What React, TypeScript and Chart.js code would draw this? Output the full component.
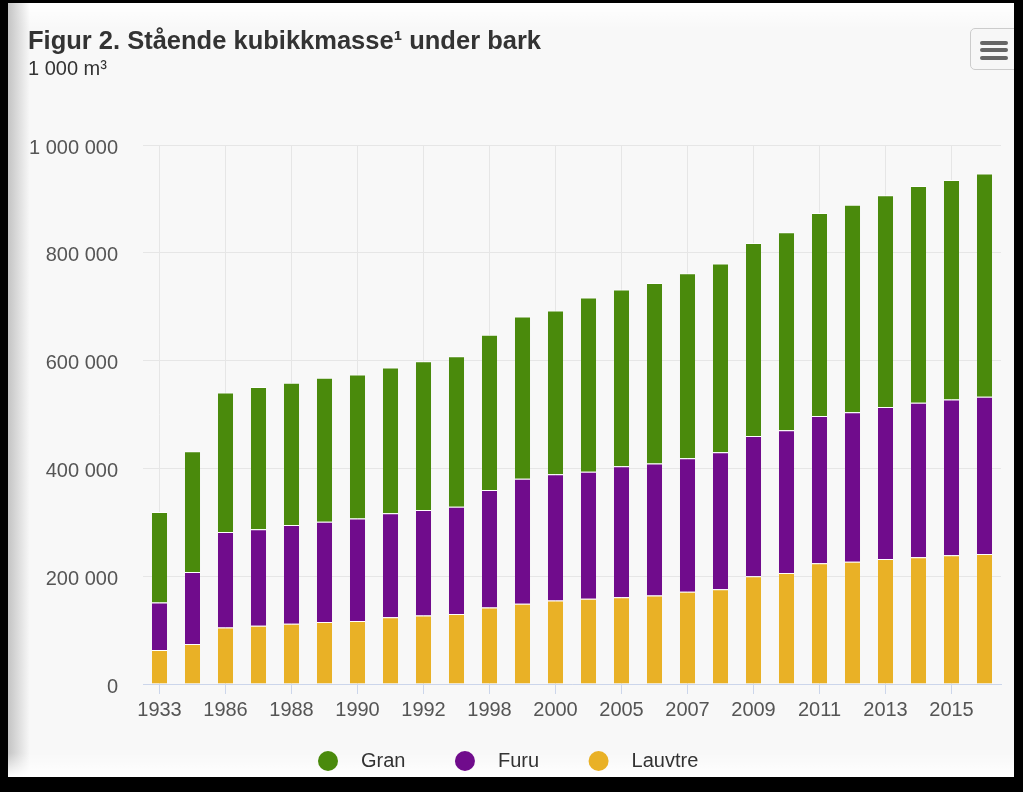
import React, { useEffect, useRef } from "react";
import { Chart, registerables } from "chart.js";

Chart.register(...registerables);

const categories = [
  "1933", "1957", "1986", "1987", "1988", "1989", "1990", "1991", "1992", "1993",
  "1998", "1999", "2000", "2004", "2005", "2006", "2007", "2008", "2009", "2010",
  "2011", "2012", "2013", "2014", "2015", "2016",
];

const granValues = [
  168000, 224000, 259000, 264000, 264000, 267000, 267000, 270000, 276000, 279000,
  288000, 301000, 304000, 323000, 328000, 335000, 343000, 350000, 358000, 367000,
  377000, 385000, 393000, 402000, 407000, 414000,
];

const furuValues = [
  88000, 134000, 177000, 179000, 183000, 186000, 190000, 193000, 196000, 199000,
  218000, 232000, 234000, 236000, 243000, 245000, 248000, 254000, 260000, 265000,
  273000, 277000, 282000, 287000, 289000, 292000,
];

const lauvtreValues = [
  63000, 74000, 105000, 108000, 112000, 115000, 117000, 124000, 127000, 130000,
  142000, 149000, 155000, 158000, 161000, 164000, 171000, 176000, 200000, 206000,
  224000, 227000, 232000, 235000, 239000, 241000,
];

const yTickValues = [0, 200000, 400000, 600000, 800000, 1000000];

const titleText = "Figur 2. Stående kubikkmasse\u00b9 under bark";
const subtitleText = "1 000 m\u00b3";

const GRAN = "#4a8a0c";
const FURU = "#700c8c";
const LAUV = "#e9b126";
const FONT = '"Liberation Sans", Arial, Helvetica, sans-serif';

const fmt = (v: number) => String(Math.round(v)).replace(/\B(?=(\d{3})+(?!\d))/g, " ");

const customLegend = {
  id: "customLegend",
  afterDraw(chart: any) {
    const ctx = chart.ctx as CanvasRenderingContext2D;
    ctx.save();
    ctx.font = `20px ${FONT}`;
    ctx.textBaseline = "middle";
    ctx.textAlign = "left";
    const items = [...chart.data.datasets].reverse();
    let x = 320;
    const y = 758;
    items.forEach((ds: any) => {
      ctx.fillStyle = ds.backgroundColor;
      ctx.beginPath();
      ctx.arc(x, y, 10, 0, Math.PI * 2);
      ctx.fill();
      ctx.fillStyle = "#333333";
      ctx.fillText(ds.label, x + 33, y);
      x += 33 + ctx.measureText(ds.label).width + 59.5;
    });
    ctx.restore();
  },
};

function BarChart() {
  const ref = useRef<HTMLCanvasElement | null>(null);
  useEffect(() => {
    if (!ref.current) return;
    const chart = new Chart(ref.current, {
      type: "bar",
      data: {
        labels: categories,
        datasets: [
          { label: "Lauvtre", data: lauvtreValues, backgroundColor: LAUV },
          { label: "Furu", data: furuValues, backgroundColor: FURU },
          { label: "Gran", data: granValues, backgroundColor: GRAN },
        ].map((d) => ({
          ...d,
          borderColor: "#ffffff",
          borderWidth: { top: 1, left: 0, right: 0, bottom: 0 },
          borderSkipped: false,
          barPercentage: 0.46,
          categoryPercentage: 1,
        })),
      },
      options: {
        responsive: false,
        animation: false,
        layout: { padding: { left: 20, right: 13, top: 0, bottom: 51 } },
        plugins: {
          legend: { display: false },
          tooltip: { enabled: false },
          title: {
            display: true,
            text: titleText,
            align: "start",
            color: "#333333",
            font: { family: FONT, size: 25.5, weight: "bold" },
            padding: { top: 24, bottom: 0 },
          },
          subtitle: {
            display: true,
            text: subtitleText,
            align: "start",
            color: "#333333",
            font: { family: FONT, size: 20 },
            padding: { top: 0, bottom: 63.4 },
          },
        },
        scales: {
          x: {
            stacked: true,
            offset: true,
            border: { display: true, color: "#ccd6eb", width: 1 },
            grid: {
              offset: false,
              drawTicks: true,
              tickLength: 10,
              color: (c: any) => (c.index % 2 === 0 ? "#e6e6e6" : "rgba(0,0,0,0)"),
              tickColor: (c: any) => (c.index % 2 === 0 ? "#ccd6eb" : "rgba(0,0,0,0)"),
            },
            ticks: {
              autoSkip: false,
              maxRotation: 0,
              padding: 4,
              color: "#555555",
              font: { family: FONT, size: 20 },
              callback: (_v: any, i: number) => (i % 2 === 0 ? categories[i] : ""),
            },
          },
          y: {
            stacked: true,
            min: 0,
            max: 1000000,
            border: { display: false },
            grid: { color: "#e6e6e6", drawTicks: false },
            afterBuildTicks: (axis: any) => {
              axis.ticks = yTickValues.map((v) => ({ value: v }));
            },
            afterFit: (axis: any) => {
              axis.width = 115;
            },
            ticks: {
              padding: 25,
              labelOffset: 3,
              color: "#555555",
              font: { family: FONT, size: 20 },
              callback: (v: any) => fmt(Number(v)),
            },
          },
        },
      },
      plugins: [customLegend],
    } as any);
    return () => chart.destroy();
  }, []);
  return <canvas ref={ref} width={1006} height={774} style={{ display: "block" }} />;
}

export default function App() {
  return (
    <div style={{ position: "fixed", inset: 0, background: "#000" }}>
      <div
        style={{
          position: "absolute",
          left: 8,
          top: 3,
          width: 1006,
          height: 774,
          background: "#f8f8f8",
          overflow: "hidden",
        }}
      >
        <div
          style={{
            position: "absolute",
            left: 0,
            top: 0,
            right: 0,
            height: 26,
            background: "linear-gradient(to bottom, #ffffff, rgba(248,248,248,0))",
          }}
        />
        <div
          style={{
            position: "absolute",
            left: 0,
            top: 0,
            bottom: 0,
            width: 22,
            background: "linear-gradient(to right, #c4c4c4, rgba(248,248,248,0))",
          }}
        />
        <div
          style={{
            position: "absolute",
            left: 0,
            right: 0,
            bottom: 0,
            height: 24,
            background: "linear-gradient(to bottom, rgba(255,255,255,0), #ffffff)",
          }}
        />
        <div style={{ position: "absolute", left: 0, top: 0 }}>
          <BarChart />
        </div>
        <div
          style={{
            position: "absolute",
            left: 962,
            top: 25,
            width: 50,
            height: 42,
            border: "1px solid #cccccc",
            borderRadius: 5,
            background: "#f7f7f7",
            boxSizing: "border-box",
          }}
        >
          {[12, 19, 27].map((t) => (
            <div
              key={t}
              style={{
                position: "absolute",
                left: 9,
                top: t,
                width: 28,
                height: 3.5,
                borderRadius: 2,
                background: "#666666",
              }}
            />
          ))}
        </div>
      </div>
    </div>
  );
}
